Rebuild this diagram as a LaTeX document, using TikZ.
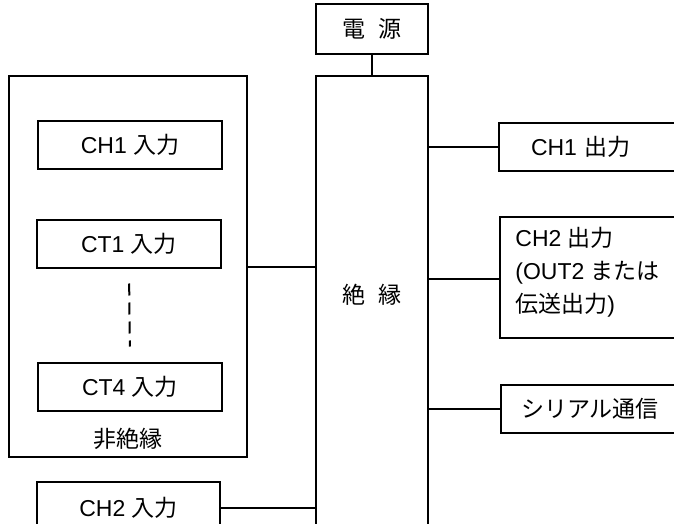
\documentclass[tikz,border=0pt]{standalone}
\usepackage{fontspec}
\setmainfont{Liberation Sans}
\newfontfamily\cjk{Noto Sans CJK JP}
\usepackage{tikz}
\usetikzlibrary{calc, positioning}
\newcommand{\jp}[1]{{\cjk #1}}
\tikzset{
  blk/.style      = {draw=black, line width=1pt, fill=white, inner sep=0pt,
                     font=\fontsize{11.5}{16.5}\selectfont},
  inbox/.style    = {blk, minimum width=92pt, minimum height=24pt},
  outbox/.style   = {blk, anchor=west, align=left, minimum height=24pt},
  wire/.style     = {draw=black, line width=1pt},
  tag/.style      = {font=\fontsize{11.5}{16.5}\selectfont, inner sep=0pt},
}
\begin{document}
\begin{tikzpicture}[x=0.5pt, y=-0.5pt, line cap=butt, line join=miter]
  \useasboundingbox (0,0) rectangle (674,524);
  \clip (0,0) rectangle (674,524);
  % centre column
  \node[blk, minimum width=56pt, minimum height=25pt] (power) at (372,29)
    {\jp{電\hspace{7pt}源}};
  \node[blk, minimum width=56pt, minimum height=242pt] (iso) at (372,318) {};
  \node[tag] (isolab) at (372,295) {\jp{絶\hspace{7pt}縁}};
  % non-isolated side
  \node[blk, minimum width=119pt, minimum height=190.5pt] (nonisobox) at (128,266.5) {};
  \node[inbox] (ch1in) at (130,145) {CH1 \jp{入力}};
  \node[inbox] (ct1in) at (129,243.5) {CT1 \jp{入力}};
  \node[inbox] (ct4in) at (130,386.5) {CT4 \jp{入力}};
  \node[tag] (nonisolab) at (128,439) {\jp{非絶縁}};
  \node[blk, minimum width=91.5pt, minimum height=26pt] (ch2in) at (128.5,508) {CH2 \jp{入力}};
  \draw[wire, dash pattern=on 6pt off 3.5pt, shorten <=7.5pt, shorten >=7.5pt]
    (ct1in.south) -- (ct4in.north);
  % outputs
  \node[outbox, text width=64pt, inner xsep=16pt] (ch1out) at (498,147) {CH1 \jp{出力}};
  \node[outbox, minimum width=96pt, minimum height=60.5pt] (ch2out) at (499,277.5) {};
  \node[tag, anchor=north west, align=left] (ch2outlab) at (515,227)
    {CH2 \jp{出力}\\(OUT2 \jp{または}\\\jp{伝送出力})};
  \node[outbox, text width=76pt, inner xsep=10pt] (serial) at (500,409) {\jp{シリアル通信}};
  \coordinate (ch2tap) at ($(ch2out.west)+(0,1.5)$);
  % connections
  \draw[wire] (power.south) -- (iso.north);
  \draw[wire] (nonisobox.east) -- (nonisobox.east -| iso.west);
  \draw[wire] (ch2in.east) -- (ch2in.east -| iso.west);
  \draw[wire] (ch1out.west -| iso.east) -- (ch1out.west);
  \draw[wire] (ch2tap -| iso.east) -- (ch2tap);
  \draw[wire] (serial.west -| iso.east) -- (serial.west);
\end{tikzpicture}
\end{document}
